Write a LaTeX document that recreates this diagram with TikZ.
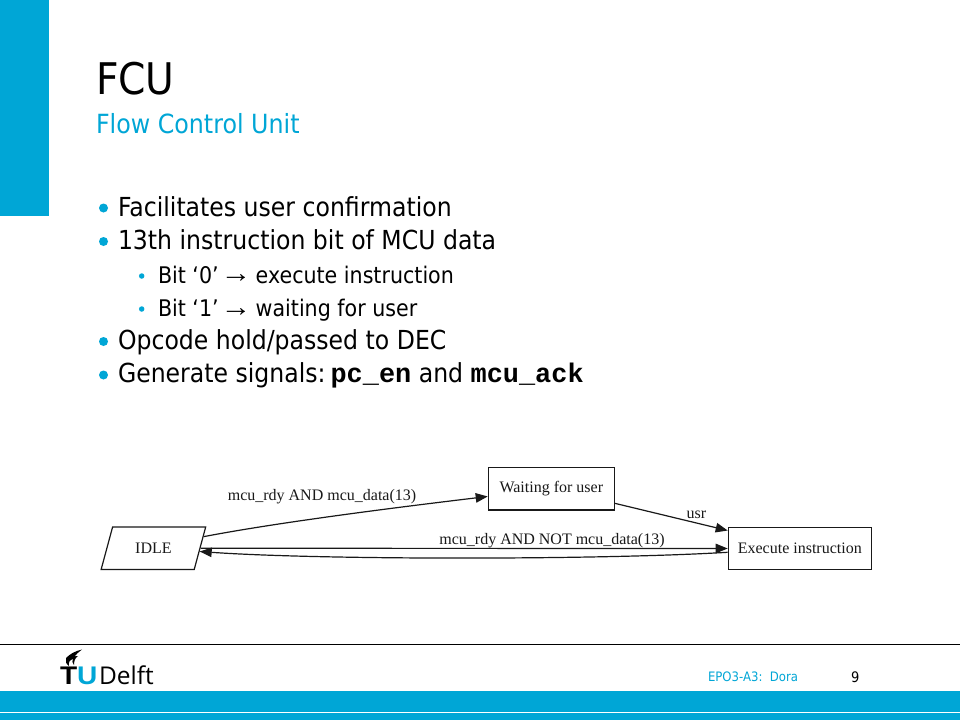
\documentclass[tikz,border=0pt]{standalone}
\usepackage{fontspec}
\setmainfont[FakeStretch=0.9]{DejaVu Sans}
\newfontfamily\serifgv{Liberation Serif}
\newfontfamily\monob[BoldFont={Liberation Mono Bold}]{Liberation Mono}
\newfontfamily\logof[FakeStretch=1.1]{Liberation Sans}
\newfontfamily\logoD{Open Sans}
\usetikzlibrary{shapes.geometric,arrows.meta}
\definecolor{tud}{HTML}{00A6D6}
\newcommand{\sz}[1]{\fontsize{#1}{#1}\selectfont}
\newcommand{\subline}[2]{\makebox[62.5pt][l]{#1}\makebox[35.2pt][l]{\raisebox{0.5pt}{\logof\sz{28}→}}#2}
\tikzset{
  txt/.style={anchor=base west,inner sep=0pt,outer sep=0pt,text=black},
  mainb/.style={txt,font=\sz{26.2}},
  subb/.style={txt,font=\sz{22.9}},
  dotm/.style={circle,fill=tud,inner sep=0pt,minimum size=9pt},
  dots/.style={circle,fill=tud,inner sep=0pt,minimum size=5.5pt},
  gbox/.style={draw=black!90,line width=1.2pt,rectangle,inner sep=0pt,font=\serifgv\sz{16},text=black!90},
  glabel/.style={anchor=base,inner sep=0pt,font=\serifgv\sz{16},text=black!90},
  gedge/.style={draw=black!90,line width=1.2pt,-{Triangle[length=12pt,width=9.5pt]}},
}
\begin{document}
\begin{tikzpicture}[x=1pt,y=-1pt]
\useasboundingbox (0,0) rectangle (960,720);
\fill[white] (0,0) rectangle (960,720);
% decoration
\fill[tud] (0,0) rectangle (49,216);
\fill[tud] (0,691) rectangle (960,712);
\fill[tud] (0,713.3) rectangle (960,720);
\draw[black,line width=1pt] (0,644.5) -- (960,644.5);
% title
\node[txt,font=\sz{43.6}] (title) at (96,94) {FCU};
\node[txt,font=\sz{26.4},text=tud] (subtitle) at (96,133.5) {Flow Control Unit};
% bullets
\node[dotm] (b1) at (103.5,208) {};
\node[mainb] (t1) at (118,216.7) {Facilitates user confirmation};
\node[dotm] (b2) at (103.5,241.5) {};
\node[mainb] (t2) at (118,249.5) {13th instruction bit of MCU data};
\node[dots] (b3) at (141.7,276) {};
\node[subb] (t3) at (158,283.3) {\subline{Bit ‘0’}{execute instruction}};
\node[dots] (b4) at (141.7,309) {};
\node[subb] (t4) at (158,316.7) {\subline{Bit ‘1’}{waiting for user}};
\node[dotm] (b5) at (103.5,341.5) {};
\node[mainb] (t5) at (118,349.3) {Opcode hold/passed to DEC};
\node[dotm] (b6) at (103.5,375) {};
\node[mainb] (t6) at (118,382.7) {Generate signals:\hspace{-5pt} {\monob\bfseries\sz{26.9}pc\_en} and {\monob\bfseries\sz{26.9}mcu\_ack}};
% diagram
\node[gbox,minimum width=126pt,minimum height=42.7pt] (wait) at (551.3,488.65) {Waiting for user};
\node[gbox,minimum width=143pt,minimum height=41.6pt] (exec) at (799.8,548.5) {Execute instruction};
\node[trapezium,draw=black!90,line width=1.2pt,inner sep=0pt,trapezium stretches=true,font=\serifgv\sz{16},text=black!90,
  trapezium left angle=64,trapezium right angle=116,minimum width=104.7pt,minimum height=42.5pt] (idle) at (153.4,548.25) {IDLE};
\draw[gedge] (idle.13) .. controls (280,522) and (400,507) .. (wait.187);
\draw[gedge] (wait.-13.7) -- (exec.166.8);
\draw[gedge] (idle.east) -- (exec.west);
\draw[gedge] (exec.183.8) .. controls (600,560) and (320,560) .. (idle.-4.8);
\node[glabel] (l1) at (322,500.5) {mcu\_rdy AND mcu\_data(13)};
\node[glabel] (l2) at (552,544) {mcu\_rdy AND NOT mcu\_data(13)};
\node[glabel] (l3) at (696.5,518) {usr};
% footer
\node[txt,font=\sz{13},text=tud] (foot) at (708,681.5) {EPO3-A3:\ \ Dora};
\node[txt,font=\sz{14.5}] (page) at (851,682.5) {9};
% logo
\node[txt,font=\logof\bfseries\sz{25.5}] (logoT) at (60,684) {T};
\node[txt,font=\logof\bfseries\sz{25.5},text=tud] (logoU) at (77,684) {U};
\node[txt,font=\logoD\sz{24.5}] (logoD) at (99,684.5) {Delft};
\fill[black] (82,649.5) .. controls (75,651) and (70,654) .. (66,658)
  .. controls (65,661) and (66,664) .. (69,666) .. controls (68,662) and (70,660) .. (73,659)
  .. controls (72,661) and (72,663) .. (74,665) .. controls (74,661) and (75,658) .. (78,656)
  .. controls (76,656) and (75,656) .. (74,657) .. controls (76,654) and (79,652) .. (82,649.5) -- cycle;
\end{tikzpicture}
\end{document}
